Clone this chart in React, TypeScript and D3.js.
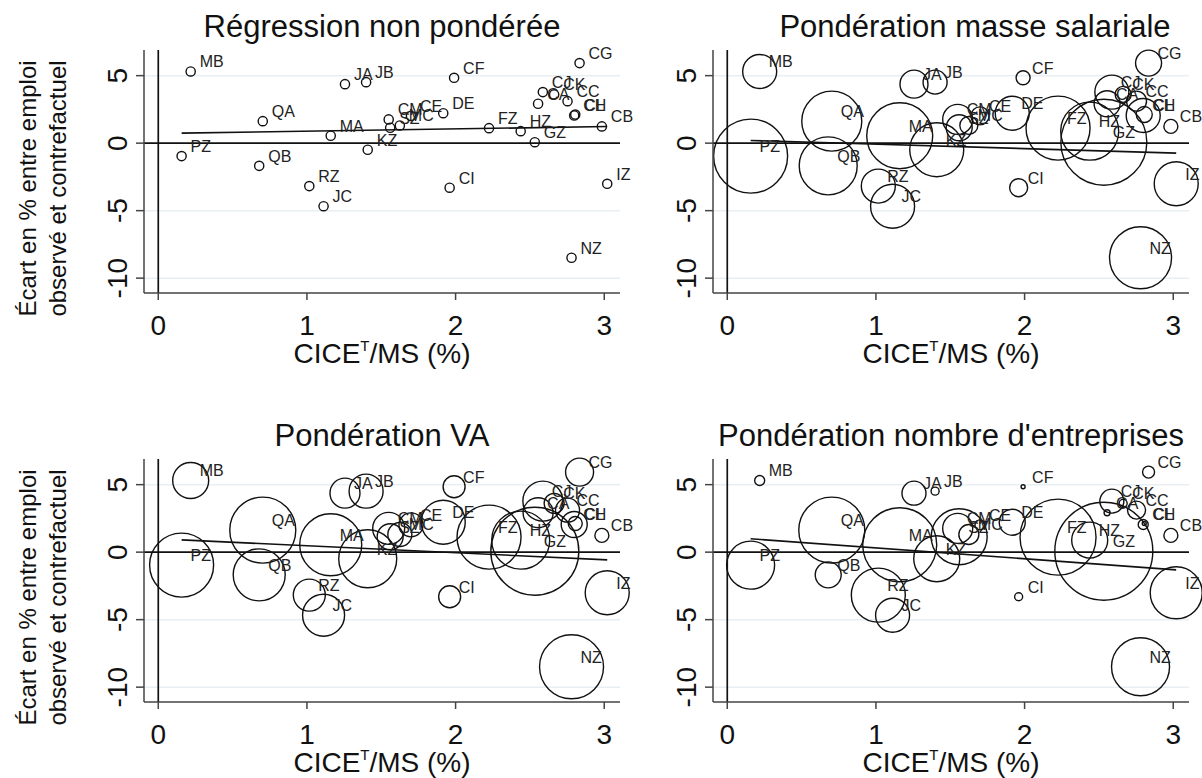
import React from "react";
import * as d3 from "d3";

// ---- Data ----
const sectors = ["MB","PZ","QA","QB","MA","RZ","JC","JA","JB","KZ","CM","SZ","MC","CE","DE","CF","CI","FZ","HZ","GZ","CA","CJ","CK","CC","CH","CL","CG","NZ","CB","IZ"];
const cicePct = [0.218,0.157,0.703,0.679,1.16,1.016,1.112,1.256,1.398,1.409,1.55,1.56,1.625,1.70,1.917,1.99,1.96,2.225,2.438,2.533,2.555,2.587,2.663,2.753,2.798,2.805,2.834,2.78,2.984,3.02];
const ecartPct = [5.31,-0.96,1.63,-1.68,0.55,-3.18,-4.67,4.37,4.52,-0.49,1.76,1.14,1.31,2.02,2.22,4.84,-3.30,1.11,0.89,0.07,2.92,3.78,3.61,3.11,2.05,2.12,5.93,-8.49,1.24,-3.01];

// weights (shares) used for the weighted panels
const wMasseSalariale = [2.89,13.69,9.0,8.41,10.89,2.89,4.84,1.96,1.44,7.29,2.25,1.69,0.81,0.81,2.89,0.49,0.81,10.24,8.41,18.49,1.69,2.89,0.64,1.0,2.89,0.64,1.69,9.61,0.49,4.84];
const wValeurAjoutee = [3.24,10.24,10.89,6.76,9.61,2.56,4.41,2.25,2.89,8.41,2.56,1.69,1.44,1.44,4.84,1.21,1.21,10.24,8.41,19.36,2.25,4.0,1.0,1.44,1.69,0.49,1.96,10.24,0.49,4.84];
const wEntreprises = [0.25,5.76,10.89,1.69,13.69,7.29,2.89,1.44,0.16,5.29,2.25,7.84,1.0,0.25,1.69,0.04,0.16,14.44,3.24,24.01,0.09,1.44,0.16,0.81,0.25,0.04,0.36,8.41,0.49,6.76];

const panelTitles = ["Régression non pondérée","Pondération masse salariale","Pondération VA","Pondération nombre d'entreprises"];
// fitted line values at the ends of the x range
const fitStart = [0.74, 0.20, 0.91, 0.99];
const fitEnd = [1.23, -0.74, -0.57, -1.31];

const xTicks = [0, 1, 2, 3];
const yTicks = [5, 0, -5, -10];
const yGrid = [5, -5, -10];

const FONT = "Liberation Sans, Arial, Helvetica, sans-serif";

const panelWeights: (number[] | null)[] = [null, wMasseSalariale, wValeurAjoutee, wEntreprises];
const titleShift = [0, 24, 0, 0];

function Panel({ idx }: { idx: number }) {
  const col = idx % 2;
  const row = Math.floor(idx / 2);
  const left = col === 0 ? 144 : 713;
  const right = col === 0 ? 620 : 1189;
  const top = row === 0 ? 50 : 459;
  const bottom = row === 0 ? 293 : 702;

  const x = d3.scaleLinear().domain([-0.096, 3.106]).range([left, right]);
  const y = d3.scaleLinear().domain([-11.1, 6.9]).range([bottom, top]);
  const r = d3.scaleSqrt().domain([0, 1]).range([0, 10]);
  const weights = panelWeights[idx];

  const xExt = d3.extent(cicePct) as [number, number];
  const line = d3.line<[number, number]>().x(d => x(d[0])).y(d => y(d[1]));
  const fitPath = line([[xExt[0], fitStart[idx]], [xExt[1], fitEnd[idx]]]) || "";

  const cx = (left + right) / 2;

  return (
    <g>
      {/* title */}
      <text x={cx + titleShift[idx]} y={top - 13} textAnchor="middle" fontSize={31} fill="#111" fontFamily={FONT}>{panelTitles[idx]}</text>
      {/* grid */}
      {yGrid.map(t => (
        <line key={"g" + t} x1={left} x2={right} y1={y(t)} y2={y(t)} stroke="#e8eff3" strokeWidth={1.5} />
      ))}
      {/* circles */}
      {sectors.map((s, i) => (
        <circle key={"c" + s} cx={x(cicePct[i])} cy={y(ecartPct[i])}
          r={weights ? r(weights[i]) : 4.6}
          fill="none" stroke="#111" strokeWidth={1.4} />
      ))}
      {/* reference lines */}
      <line x1={left} x2={right} y1={y(0)} y2={y(0)} stroke="#111" strokeWidth={1.7} />
      <line x1={x(0)} x2={x(0)} y1={top} y2={bottom} stroke="#111" strokeWidth={1.7} />
      {/* fit */}
      <path d={fitPath} fill="none" stroke="#111" strokeWidth={1.6} />
      {/* labels */}
      {sectors.map((s, i) => (
        <text key={"l" + s} x={x(cicePct[i]) + 9} y={y(ecartPct[i]) - 4} fontSize={16} fill="#222" fontFamily={FONT}>{s}</text>
      ))}
      {/* axes */}
      <line x1={left} x2={left} y1={top} y2={bottom} stroke="#444" strokeWidth={1.5} />
      <line x1={left} x2={right} y1={bottom} y2={bottom} stroke="#444" strokeWidth={1.5} />
      {yTicks.map(t => (
        <g key={"yt" + t}>
          <line x1={left - 8} x2={left} y1={y(t)} y2={y(t)} stroke="#444" strokeWidth={1.5} />
          <text transform={`translate(${left - 17},${y(t)}) rotate(-90)`} textAnchor="middle" fontSize={28} fill="#111" fontFamily={FONT}>{t}</text>
        </g>
      ))}
      {xTicks.map(t => (
        <g key={"xt" + t}>
          <line x1={x(t)} x2={x(t)} y1={bottom} y2={bottom + 7} stroke="#444" strokeWidth={1.5} />
          <text x={x(t)} y={bottom + 42} textAnchor="middle" fontSize={28} fill="#111" fontFamily={FONT}>{t}</text>
        </g>
      ))}
      <text x={cx} y={bottom + 70} textAnchor="middle" fontSize={28} fill="#111" fontFamily={FONT}>
        CICE<tspan fontSize={15} dy={-12}>T</tspan><tspan dy={12}>/MS (%)</tspan>
      </text>
      {col === 0 && (
        <text transform={`translate(36,${(top + bottom) / 2 + 17}) rotate(-90)`} textAnchor="middle" fontSize={24} fill="#111" fontFamily={FONT}>
          <tspan x={0} dy={0}>Écart en % entre emploi</tspan>
          <tspan x={0} dy={30}>observé et contrefactuel</tspan>
        </text>
      )}
    </g>
  );
}

export default function App() {
  return (
    <svg width={1202} height={778} style={{ position: "absolute", left: 0, top: 0, background: "#fff" }}>
      <rect x={0} y={0} width={1202} height={778} fill="#fff" />
      {[0, 1, 2, 3].map(i => <Panel key={i} idx={i} />)}
    </svg>
  );
}
